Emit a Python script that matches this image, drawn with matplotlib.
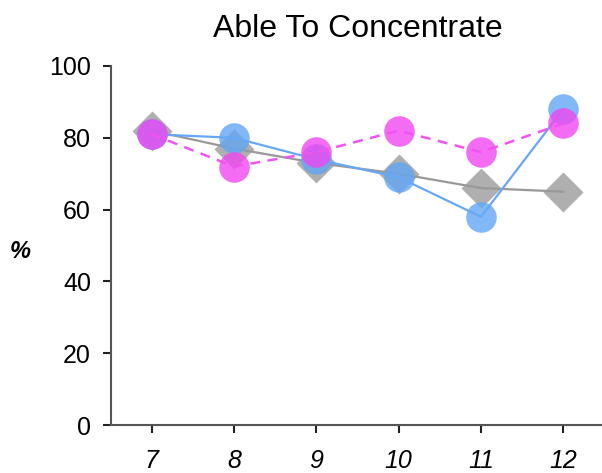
import matplotlib
matplotlib.use("Agg")
import matplotlib.pyplot as plt

plt.rcParams['font.family'] = ['Liberation Sans', 'DejaVu Sans']

ages = [7, 8, 9, 10, 11, 12]
gray_vals = [82, 77, 73, 70, 66, 65]
blue_vals = [81, 80, 74, 69, 58, 88]
pink_vals = [81, 72, 76, 82, 76, 84]
y_ticks = [0, 20, 40, 60, 80, 100]
title = "Able To Concentrate"
ylabel = "%"

fig = plt.figure(figsize=(6.02, 4.73), dpi=100)
ax = fig.add_axes([110.5 / 602, 48 / 473, 494 / 602, 359 / 473])

# markers (under lines)
ax.plot(ages, gray_vals, linestyle='none', marker='D', markersize=20,
        markerfacecolor=(0.63, 0.63, 0.63), markeredgecolor='none', alpha=0.85, zorder=2)
ax.plot(ages, gray_vals, color=(0.60, 0.60, 0.60), linewidth=1.6, zorder=3)

ax.plot(ages, blue_vals, linestyle='none', marker='o', markersize=22,
        markerfacecolor=(0.39, 0.65, 0.96), markeredgecolor='none', alpha=0.8, zorder=4)
ax.plot(ages, blue_vals, color=(0.40, 0.66, 0.97), linewidth=1.6, zorder=5)

ax.plot(ages, pink_vals, linestyle='none', marker='o', markersize=22,
        markerfacecolor=(0.94, 0.28, 0.94), markeredgecolor='none', alpha=0.8, zorder=6)
ax.plot(ages, pink_vals, color=(0.94, 0.33, 0.94), linewidth=1.8,
        linestyle=(0, (4, 3)), zorder=7)

ax.set_xlim(6.5, 12.5)
ax.set_ylim(0, 100)
ax.set_xticks(ages)
ax.set_xticklabels([str(a) for a in ages], fontstyle='italic')
ax.set_yticks(y_ticks)

for s in ['top', 'right']:
    ax.spines[s].set_visible(False)
for s in ['left', 'bottom']:
    ax.spines[s].set_color('#555555')
    ax.spines[s].set_linewidth(1.5)

ax.tick_params(axis='both', colors='#222222', labelcolor='black', labelsize=18,
               length=6, width=1.5)
ax.tick_params(axis='x', pad=11)
ax.tick_params(axis='y', pad=8)

ax.set_title(title, fontsize=23, pad=21)
ax.set_ylabel(ylabel, rotation=0, fontsize=17, fontweight='bold', fontstyle='italic',
              labelpad=0, va='center', ha='center')
ax.yaxis.set_label_coords(-0.182, 0.482)

fig.savefig("out.png", dpi=100)
